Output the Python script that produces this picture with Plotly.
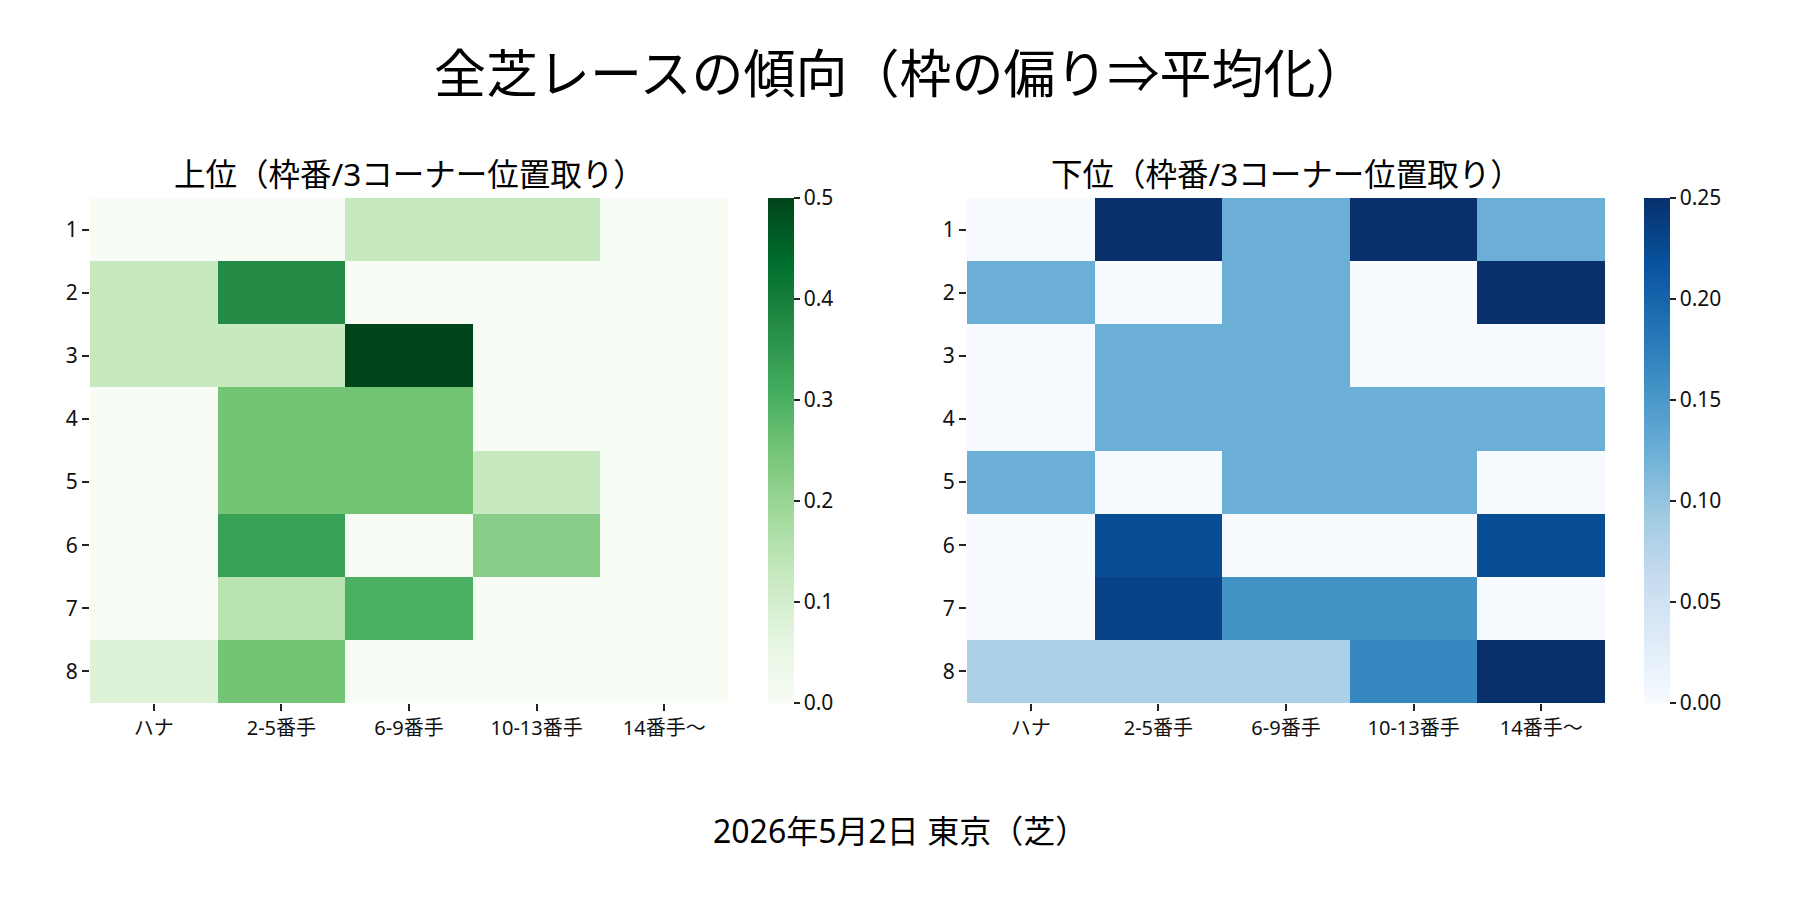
import plotly.graph_objects as go

# 枠番 / 3コーナー位置取り
waku = ["1", "2", "3", "4", "5", "6", "7", "8"]
positions = ["ハナ", "2-5番手", "6-9番手", "10-13番手", "14番手〜"]

top_rates = [
    [0.0, 0.0, 0.125, 0.125, 0.0],
    [0.125, 0.375, 0.0, 0.0, 0.0],
    [0.125, 0.125, 0.5, 0.0, 0.0],
    [0.0, 0.25, 0.25, 0.0, 0.0],
    [0.0, 0.25, 0.25, 0.125, 0.0],
    [0.0, 0.333, 0.0, 0.222, 0.0],
    [0.0, 0.15, 0.3, 0.0, 0.0],
    [0.08, 0.25, 0.0, 0.0, 0.0],
]
bottom_rates = [
    [0.0, 0.25, 0.125, 0.25, 0.125],
    [0.125, 0.0, 0.125, 0.0, 0.25],
    [0.0, 0.125, 0.125, 0.0, 0.0],
    [0.0, 0.125, 0.125, 0.125, 0.125],
    [0.125, 0.0, 0.125, 0.125, 0.0],
    [0.0, 0.222, 0.0, 0.0, 0.222],
    [0.0, 0.233, 0.156, 0.156, 0.0],
    [0.083, 0.083, 0.083, 0.167, 0.25],
]

greens = ["#f7fcf5", "#e5f5e0", "#c7e9c0", "#a1d99b", "#74c476",
          "#41ab5d", "#238b45", "#006d2c", "#00441b"]
blues = ["#f7fbff", "#deebf7", "#c6dbef", "#9ecae1", "#6baed6",
         "#4292c6", "#2171b5", "#08519c", "#08306b"]


def scale(cols):
    n = len(cols) - 1
    return [[i / n, c] for i, c in enumerate(cols)]


FONT = "Noto Sans, Noto Sans CJK JP"
W, H = 1800, 900
OFF = 8  # page body margin
top_px, bot_px = 198 - OFF, 703 - OFF
y0, y1 = 1 - bot_px / H, 1 - top_px / H

fig = go.Figure()

panels = [
    (top_rates, greens, 0.5, [0, 0.1, 0.2, 0.3, 0.4, 0.5], "0.1f", (90, 728), 768, "上位（枠番/3コーナー位置取り）"),
    (bottom_rates, blues, 0.25, [0, 0.05, 0.1, 0.15, 0.2, 0.25], "0.2f", (967, 1605), 1644, "下位（枠番/3コーナー位置取り）"),
]

for i, (z, cols, zmax, tv, fmt, (xl, xr), cbx, title) in enumerate(panels, start=1):
    xl, xr, cbx = xl - OFF, xr - OFF, cbx - OFF
    xa = "x" if i == 1 else f"x{i}"
    ya = "y" if i == 1 else f"y{i}"
    fig.add_trace(go.Heatmap(
        z=z, x=positions, y=waku, xaxis=xa, yaxis=ya,
        colorscale=scale(cols), zmin=0, zmax=zmax,
        hoverinfo="skip",
        colorbar=dict(
            x=cbx / W, xanchor="left", y=y1, yanchor="top",
            len=y1 - y0, lenmode="fraction", thickness=26,
            xpad=0, ypad=0,
            outlinewidth=0, ticks="outside", ticklen=6, tickwidth=1.5,
            tickcolor="#222", tickvals=tv, tickformat=fmt,
            tickfont=dict(family=FONT, size=21, color="#111"),
        ),
    ))
    suffix = "" if i == 1 else str(i)
    fig.layout["xaxis" + suffix] = dict(
        domain=[xl / W, xr / W], anchor=ya, ticks="outside", ticklen=7,
        tickwidth=1.5, tickcolor="#222", showgrid=False, zeroline=False,
        showline=False, tickfont=dict(family=FONT, size=20, color="#111"),
    )
    fig.layout["yaxis" + suffix] = dict(
        domain=[y0, y1], anchor=xa, autorange="reversed", ticks="outside",
        ticklen=7, tickwidth=1.5, tickcolor="#222", showgrid=False,
        zeroline=False, showline=False,
        tickfont=dict(family=FONT, size=21, color="#111"),
    )
    fig.add_annotation(
        text=title, x=(xl + xr) / 2 / W, y=1 - (173 - OFF) / H, xref="paper", yref="paper",
        showarrow=False, xanchor="center", yanchor="middle",
        font=dict(family=FONT, size=31.5, color="#000"),
    )

fig.add_annotation(
    text="全芝レースの傾向（枠の偏り⇒平均化）", x=(900 - OFF) / W, y=1 - (73 - OFF) / H,
    xref="paper", yref="paper", showarrow=False, xanchor="center", yanchor="middle",
    font=dict(family=FONT, size=52, color="#000"),
)
fig.add_annotation(
    text="2026年5月2日 東京（芝）", x=(900 - OFF) / W, y=1 - (830 - OFF) / H,
    xref="paper", yref="paper", showarrow=False, xanchor="center", yanchor="middle",
    font=dict(family=FONT, size=32, color="#000"),
)

fig.update_layout(
    width=W, height=H, margin=dict(l=0, r=0, t=0, b=0),
    paper_bgcolor="white", plot_bgcolor="white", showlegend=False,
)

fig.write_html("out.html")
